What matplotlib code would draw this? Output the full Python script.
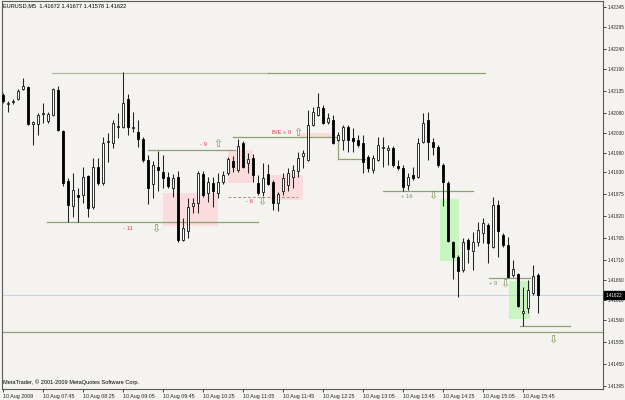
import numpy as np
import matplotlib
matplotlib.use("Agg")
import matplotlib.pyplot as plt
from matplotlib.patches import Rectangle

plt.rcParams['font.family'] = ['Liberation Sans', 'DejaVu Sans']

# DATA ------------------------------------------------------------------------
symbol = "EURUSD,M5"

opens = [1.42125, 1.42102, 1.42106, 1.42115, 1.42140, 1.42145, 1.42052, 1.42052, 1.42077, 1.42059,
         1.42074, 1.42137, 1.42034, 1.41909, 1.41846, 1.41874, 1.41874, 1.41922, 1.41844, 1.41944,
         1.41904, 1.42007, 1.42004, 1.42044, 1.42044, 1.42115, 1.42042, 1.42032, 1.42014, 1.41962,
         1.41901, 1.41944, 1.41932, 1.41919, 1.41891, 1.41919, 1.41761, 1.41784, 1.41846, 1.41854,
         1.41927, 1.41879, 1.41904, 1.41879, 1.41906, 1.41929, 1.41959, 1.41937, 1.42004, 1.41954,
         1.41967, 1.41904, 1.41881, 1.41927, 1.41906, 1.41854, 1.41884, 1.41899, 1.41919, 1.41934,
         1.41972, 1.41962, 1.42049, 1.42074, 1.42092, 1.42057, 1.42062, 1.42012, 1.42012, 1.42044,
         1.42017, 1.42012, 1.42004, 1.41969, 1.41937, 1.41962, 1.41992, 1.41987, 1.41992, 1.41947,
         1.41942, 1.41899, 1.41924, 1.41919, 1.42007, 1.42062, 1.42007, 1.41994, 1.41949, 1.41904,
         1.41756, 1.41718, 1.41686, 1.41761, 1.41733, 1.41756, 1.41779, 1.41799, 1.41744, 1.41849,
         1.41774, 1.41749, 1.41673, 1.41676, 1.41578, 1.41591, 1.41628, 1.41672]
highs = [1.42130, 1.42110, 1.42115, 1.42140, 1.42167, 1.42147, 1.42059, 1.42079, 1.42105, 1.42082,
         1.42142, 1.42147, 1.42037, 1.41917, 1.41929, 1.41891, 1.41944, 1.41924, 1.41967, 1.41967,
         1.42019, 1.42029, 1.42062, 1.42079, 1.42182, 1.42127, 1.42082, 1.42062, 1.42019, 1.41974,
         1.41959, 1.41984, 1.41974, 1.41932, 1.41927, 1.41934, 1.41816, 1.41866, 1.41866, 1.41934,
         1.41934, 1.41919, 1.41919, 1.41929, 1.41934, 1.41969, 1.41972, 1.42014, 1.42009, 1.41979,
         1.41977, 1.41924, 1.41954, 1.41952, 1.41911, 1.41881, 1.41929, 1.41942, 1.41949, 1.41982,
         1.41987, 1.42087, 1.42094, 1.42130, 1.42099, 1.42079, 1.42074, 1.42032, 1.42049, 1.42049,
         1.42042, 1.42024, 1.42024, 1.41974, 1.41974, 1.42019, 1.42019, 1.41999, 1.41997, 1.41962,
         1.41949, 1.41929, 1.41944, 1.42017, 1.42079, 1.42082, 1.42017, 1.41999, 1.41954, 1.41909,
         1.41759, 1.41723, 1.41766, 1.41766, 1.41781, 1.41806, 1.41816, 1.41804, 1.41869, 1.41861,
         1.41779, 1.41769, 1.41711, 1.41678, 1.41643, 1.41661, 1.41698, 1.41677]
lows = [1.42105, 1.42082, 1.42102, 1.42112, 1.42137, 1.42049, 1.41999, 1.42024, 1.42054, 1.42054,
        1.42072, 1.42034, 1.41896, 1.41806, 1.41819, 1.41806, 1.41854, 1.41819, 1.41839, 1.41899,
        1.41899, 1.41957, 1.41992, 1.42017, 1.42042, 1.42024, 1.42032, 1.41994, 1.41957, 1.41851,
        1.41866, 1.41884, 1.41891, 1.41891, 1.41869, 1.41756, 1.41759, 1.41766, 1.41829, 1.41829,
        1.41869, 1.41856, 1.41844, 1.41866, 1.41901, 1.41924, 1.41932, 1.41932, 1.41942, 1.41929,
        1.41906, 1.41874, 1.41871, 1.41899, 1.41836, 1.41834, 1.41874, 1.41884, 1.41891, 1.41919,
        1.41942, 1.41959, 1.42047, 1.42072, 1.42052, 1.42052, 1.42002, 1.42009, 1.41987, 1.41982,
        1.41982, 1.41994, 1.41929, 1.41932, 1.41929, 1.41959, 1.41944, 1.41949, 1.41944, 1.41937,
        1.41884, 1.41886, 1.41911, 1.41917, 1.42004, 1.41962, 1.41974, 1.41944, 1.41846, 1.41756,
        1.41663, 1.41618, 1.41681, 1.41703, 1.41686, 1.41746, 1.41754, 1.41703, 1.41741, 1.41718,
        1.41744, 1.41666, 1.41668, 1.41593, 1.41545, 1.41578, 1.41623, 1.41578]
closes = [1.42110, 1.42105, 1.42108, 1.42135, 1.42147, 1.42052, 1.42057, 1.42074, 1.42079, 1.42077,
          1.42140, 1.42037, 1.41904, 1.41849, 1.41886, 1.41869, 1.41919, 1.41841, 1.41944, 1.41904,
          1.42004, 1.42009, 1.42054, 1.42047, 1.42105, 1.42044, 1.42044, 1.42014, 1.41962, 1.41891,
          1.41949, 1.41937, 1.41917, 1.41896, 1.41917, 1.41761, 1.41791, 1.41844, 1.41854, 1.41929,
          1.41874, 1.41906, 1.41884, 1.41906, 1.41924, 1.41964, 1.41944, 1.41997, 1.41944, 1.41964,
          1.41924, 1.41879, 1.41917, 1.41901, 1.41854, 1.41876, 1.41917, 1.41929, 1.41937, 1.41967,
          1.41979, 1.42049, 1.42082, 1.42094, 1.42054, 1.42067, 1.42004, 1.42024, 1.42044, 1.42012,
          1.42009, 1.41999, 1.41957, 1.41942, 1.41967, 1.41999, 1.41994, 1.41992, 1.41949, 1.41942,
          1.41894, 1.41919, 1.41917, 1.42004, 1.42054, 1.42007, 1.41994, 1.41949, 1.41906, 1.41759,
          1.41718, 1.41683, 1.41756, 1.41739, 1.41756, 1.41786, 1.41804, 1.41754, 1.41849, 1.41784,
          1.41749, 1.41668, 1.41688, 1.41596, 1.41583, 1.41636, 1.41671, 1.41622]

time_labels = ["10 Aug 2009", "10 Aug 07:45", "10 Aug 08:25", "10 Aug 09:05", "10 Aug 09:45",
               "10 Aug 10:25", "10 Aug 11:05", "10 Aug 11:45", "10 Aug 12:25", "10 Aug 13:05",
               "10 Aug 13:45", "10 Aug 14:25", "10 Aug 15:05", "10 Aug 15:45"]
price_ticks = [1.42345, 1.42295, 1.42240, 1.42190, 1.42135, 1.42080, 1.42030, 1.41980, 1.41930,
               1.41875, 1.41820, 1.41765, 1.41710, 1.41660, 1.41610, 1.41560, 1.41505, 1.41450, 1.41395]

# trade levels: (bar from, bar to, price)
levels = [(9.8, 53.0, 1.42180), (53.0, 96.4, 1.42180), (8.8, 51.0, 1.41806), (29.0, 46.4, 1.41987),
          (46.0, 67.0, 1.42019), (67.0, 72.4, 1.41964), (76.0, 94.0, 1.41884), (97.2, 105.4, 1.41666),
          (103.4, 113.4, 1.41545)]
level_colors = ['#b3b8a6', '#8fa06f', '#8fa06f', '#8fa06f', '#8fa06f', '#8fa06f', '#8fa06f', '#8fa06f', '#8fa06f']
dashed_level = (45.0, 59.0, 1.41869)
step_link = (67.0, 1.42019, 1.41964)
stop_line = 1.41529

# zones: (bar from, bar to, price low, price high)
loss_zones = [(32.0, 43.0, 1.41796, 1.41879), (45.0, 50.0, 1.41904, 1.41987),
              (53.4, 60.0, 1.41861, 1.41924), (59.4, 66.0, 1.42019, 1.42029)]
win_zones = [(87.4, 91.2, 1.41708, 1.41864), (101.2, 105.4, 1.41563, 1.41658)]

# labels: (bar, price, text, colour)
trade_notes = [(25.0, 1.41789, "- 11", '#e0384e'), (40.0, 1.41999, "- 9", '#e0384e'),
               (55.8, 1.42029, "B/E + 0", '#e0384e'), (49.2, 1.41856, "- 6", '#e0384e'),
               (80.8, 1.41869, "+ 16", '#7d8a66'), (98.0, 1.41651, "+ 9", '#7d8a66')]
up_arrows = [(43.0, 1.42002), (59.0, 1.42029)]
down_arrows = [(30.6, 1.41789), (51.8, 1.41856), (86.0, 1.41871), (100.4, 1.41651), (110.0, 1.41510)]

# FIGURE ----------------------------------------------------------------------
bg = '#f4f3f0'
fig = plt.figure(figsize=(6.25, 4), dpi=100, facecolor=bg)
ax = fig.add_axes([2/625, 11/400, 601/625, 388/400], facecolor=bg)
ax.set_xlim(-0.2, 120)
ax.set_ylim(1.41387, 1.42360)

n = len(opens)
x = np.arange(n)

# zones behind everything
for x0, x1, lo, hi in loss_zones:
    ax.add_patch(Rectangle((x0, lo), x1 - x0, hi - lo, facecolor='#fbdcdc', edgecolor='none', zorder=1))
for x0, x1, lo, hi in win_zones:
    ax.add_patch(Rectangle((x0, lo), x1 - x0, hi - lo, facecolor='#c8f5c0', edgecolor='none', zorder=1))

# levels
ax.axhline(closes[-1], color='#c9cdf2', lw=0.7, zorder=1.5)
ax.axhline(stop_line, color='#93a078', lw=0.9, zorder=1.5)
for (x0, x1, p), c in zip(levels, level_colors):
    ax.plot([x0, x1], [p, p], color=c, lw=0.9, zorder=2)
ax.plot([step_link[0], step_link[0]], [step_link[1], step_link[2]], color='#8fa06f', lw=0.9, zorder=2)
ax.plot(dashed_level[:2], [dashed_level[2]] * 2, color='#9c9a72', lw=0.7, ls=(0, (3, 2)), zorder=2)

# candles
up = np.array(closes) >= np.array(opens)
ax.vlines(x, lows, highs, color='#222222', lw=0.75, zorder=3)
body_lo = np.minimum(opens, closes)
body_h = np.maximum(np.abs(np.array(closes) - np.array(opens)), 0.000015)
ax.bar(x[up], body_h[up], bottom=body_lo[up], width=0.5, color='white',
       edgecolor='#111111', lw=0.6, zorder=4)
ax.bar(x[~up], body_h[~up], bottom=body_lo[~up], width=0.5, color='black',
       edgecolor='black', lw=0.6, zorder=4)

# notes and arrows
for bx, p, t, c in trade_notes:
    ax.text(bx, p, t, color=c, fontsize=4.2, ha='center', va='center', zorder=5)
for bx, p in up_arrows:
    ax.text(bx, p, "\u21e7", color='#7f9455', fontsize=8, ha='center', va='center',
            family='DejaVu Sans', zorder=5)
for bx, p in down_arrows:
    ax.text(bx, p, "\u21e9", color='#7f9455', fontsize=8, ha='center', va='center',
            family='DejaVu Sans', zorder=5)

# header and footer
ax.text(0.002, 0.987, "{}  {:.5f} {:.5f} {:.5f} {:.5f}".format(symbol, opens[-1], highs[-1], lows[-1], closes[-1]),
        transform=ax.transAxes, fontsize=4.1, ha='left', va='center')
ax.text(0.002, 0.017, "MetaTrader, \u00a9 2001-2009 MetaQuotes Software Corp.",
        transform=ax.transAxes, fontsize=4.1, ha='left', va='center')

# axes style
for s in ax.spines.values():
    s.set_color('#5a5a5a')
    s.set_linewidth(0.8)
ax.yaxis.tick_right()
ax.set_yticks(price_ticks)
ax.set_yticklabels(["{:.5f}".format(v) for v in price_ticks])
ax.tick_params(axis='y', direction='out', length=2.2, width=0.6, pad=1.0, labelsize=3.3, colors='#222222')
ax.set_xticks(np.arange(0, 8 * len(time_labels), 8))
ax.set_xticklabels(time_labels, ha='left')
ax.tick_params(axis='x', direction='out', length=2.0, width=0.6, pad=1.5, labelsize=3.8, colors='#222222')

# current price tag
ax.text(1.004, closes[-1], "{:.5f}".format(closes[-1]), transform=ax.get_yaxis_transform(),
        color='white', fontsize=3.3, ha='left', va='center', clip_on=False, zorder=6,
        bbox=dict(boxstyle='square,pad=0.3', facecolor='black', edgecolor='black'))

fig.savefig("out.png", dpi=100, facecolor=bg)
